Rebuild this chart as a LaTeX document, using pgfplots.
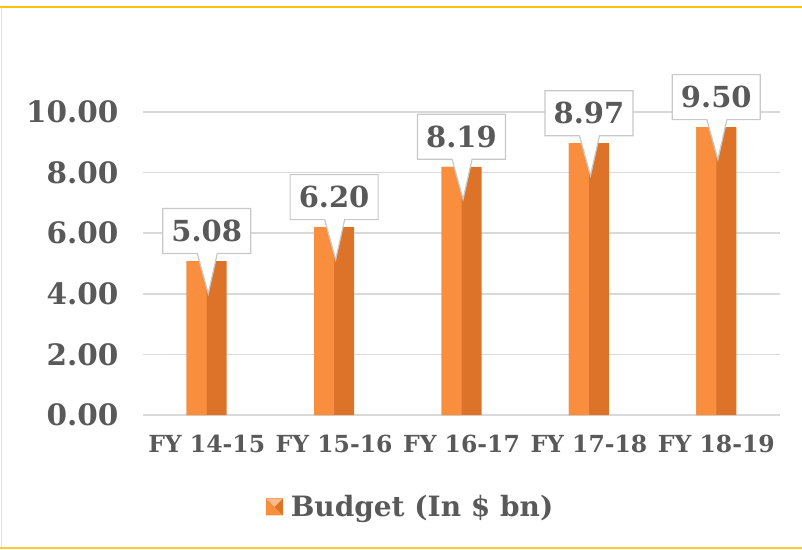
\documentclass[border=0pt]{standalone}
\usepackage{pgfplots}
\pgfplotsset{compat=1.18}
\usepackage{fontspec}
\setmainfont{DejaVu Serif}
\usetikzlibrary{shapes.callouts}
\definecolor{txt}{HTML}{595959}
\definecolor{gridc}{HTML}{D9D9D9}
\definecolor{barL}{HTML}{F98F3E}
\definecolor{barR}{HTML}{DD7329}
\definecolor{bord}{HTML}{FFC000}
\definecolor{bordl}{HTML}{FFE38A}
\definecolor{callb}{HTML}{C8C8C8}
\begin{document}
\begin{tikzpicture}[x=1pt,y=1pt]
\begin{axis}[
  at={(143pt,134pt)}, anchor=south west,
  scale only axis, width=637pt, height=363.6pt,
  xmin=-0.5, xmax=4.5, ymin=0, ymax=12,
  xtick={0,1,2,3,4},
  xticklabels={FY 14-15,FY 15-16,FY 16-17,FY 17-18,FY 18-19},
  ytick={0,2,4,6,8,10},
  yticklabel style={/pgf/number format/fixed,/pgf/number format/fixed zerofill,/pgf/number format/precision=2,/pgf/number format/assume math mode=true, font=\bfseries\fontsize{29.5}{31}\selectfont, text=txt, xshift=-21pt},
  xticklabel style={font=\bfseries\fontsize{23.5}{26}\selectfont, text=txt, yshift=-17pt},
  axis line style={draw=none},
  major tick length=0pt,
  ymajorgrids, grid style={gridc, line width=1.6pt},
  ybar,
  legend style={at={(0.42,-0.253)}, anchor=center, draw=none, fill=none,
    font=\bfseries\fontsize{28}{30}\selectfont, text=txt},
  legend image code/.code={
    \fill[barR] (0pt,-8.5pt) rectangle (17pt,8.5pt);
    \fill[barL] (0pt,-8.5pt) -- (8.5pt,0pt) -- (17pt,-8.5pt) -- cycle;
    \fill[barL!60!white] (0pt,8.5pt) -- (8.5pt,0pt) -- (17pt,8.5pt) -- cycle;
    \fill[barL] (0pt,-8.5pt) -- (8.5pt,0pt) -- (0pt,8.5pt) -- cycle;},
]
\addplot[draw=none, fill=barR, bar width=40pt, bar shift=0pt] coordinates {
 (0,5.08) (1,6.20) (2,8.19) (3,8.97) (4,9.50)
};
\addlegendentry{\hspace{6pt}Budget (In \$ bn)}
\addplot[draw=none, fill=barL, bar width=20pt, bar shift=-10pt, forget plot,
  nodes near coords, point meta=explicit symbolic,
  every node near coord/.append style={
    rectangle callout, draw=callb, line width=1.2pt, fill=white,
    anchor=center, yshift=30pt, xshift=10pt,
    callout relative pointer={(1pt,-40pt)},
    callout pointer width=20pt,
    font=\bfseries\fontsize{29}{31}\selectfont, text=txt,
    inner xsep=6pt, inner ysep=5pt, minimum width=88pt, minimum height=45pt}]
 coordinates {
 (0,5.08) [5.08]
 (1,6.20) [6.20]
 (2,8.19) [8.19]
 (3,8.97) [8.97]
 (4,9.50) [9.50]
};
\end{axis}
\draw[bord, line width=2pt] (0pt,542pt) -- (802pt,542pt);
\draw[bordl, line width=1pt] (1pt,0pt) -- (1pt,542pt);
\draw[bord!80, line width=1.5pt] (0pt,1pt) -- (802pt,1pt);
\pgfresetboundingbox
\useasboundingbox (0pt,0pt) rectangle (802pt,549pt);
\end{tikzpicture}
\end{document}
